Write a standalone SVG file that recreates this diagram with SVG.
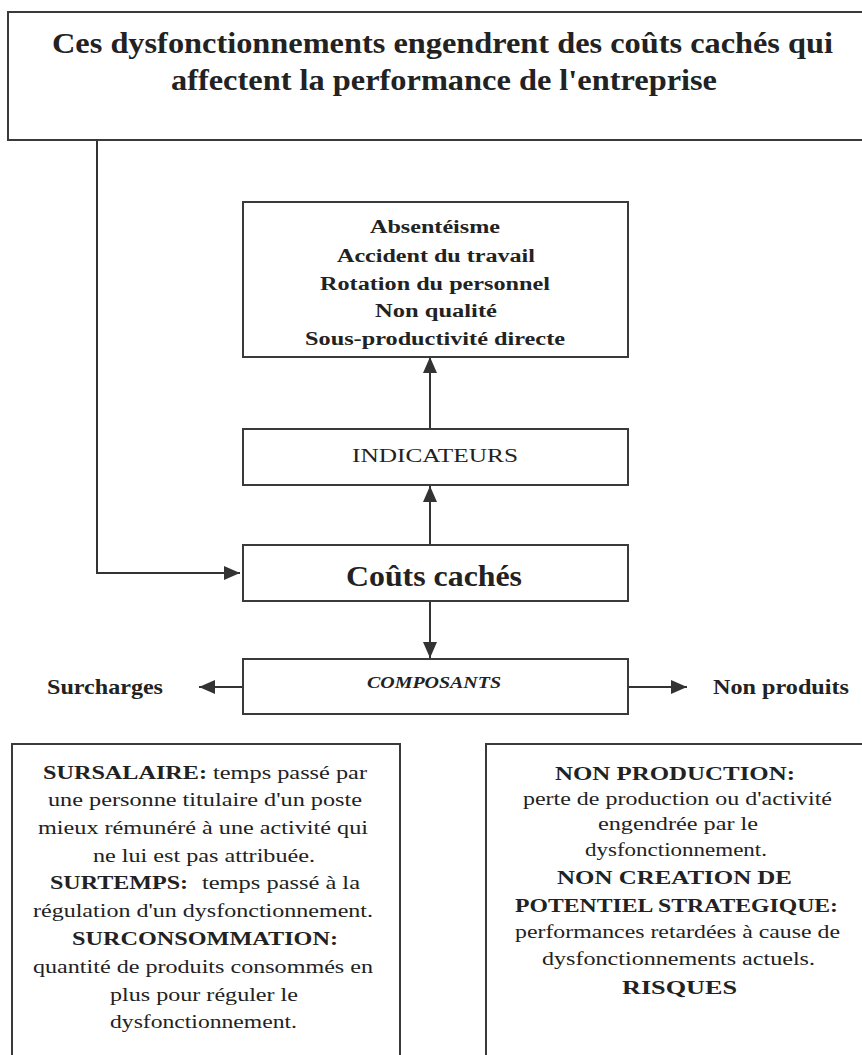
<svg xmlns="http://www.w3.org/2000/svg" width="862" height="1055" viewBox="0 0 862 1055">
<style>
.box{fill:#fff;stroke:#3a3a3a;stroke-width:2}
.ln{fill:none;stroke:#333;stroke-width:2}
text{font-family:"Liberation Serif","Times New Roman",serif;fill:#222}
.b{font-weight:bold}
.t{font-size:30px;font-weight:bold}
.l{font-size:18px;font-weight:bold}
.s{font-size:19px}
</style>
<defs>
<marker id="ah" markerUnits="userSpaceOnUse" markerWidth="16" markerHeight="14" refX="16" refY="7" orient="auto">
<path d="M0,0 L16,7 L0,14 Z" fill="#333"/>
</marker>
</defs>
<rect width="862" height="1055" fill="#fff"/>

<g id="connectors">
<polyline class="ln" points="97,141 97,573 240,573" marker-end="url(#ah)"/>
<line class="ln" x1="430" y1="428" x2="430" y2="357" marker-end="url(#ah)"/>
<line class="ln" x1="430" y1="545" x2="430" y2="486" marker-end="url(#ah)"/>
<line class="ln" x1="430" y1="601" x2="430" y2="658" marker-end="url(#ah)"/>
<line class="ln" x1="242" y1="687" x2="199" y2="687" marker-end="url(#ah)"/>
<line class="ln" x1="628" y1="687" x2="687" y2="687" marker-end="url(#ah)"/>
</g>

<g id="title">
<rect class="box" x="8" y="12" width="870" height="128"/>
<text class="t" x="52" y="53" textLength="781" lengthAdjust="spacingAndGlyphs">Ces dysfonctionnements engendrent des coûts cachés qui</text>
<text class="t" x="171" y="90" textLength="546" lengthAdjust="spacingAndGlyphs">affectent la performance de l'entreprise</text>
</g>

<g id="list">
<rect class="box" x="243" y="202" width="385" height="155"/>
<text class="l" x="370" y="233" textLength="130" lengthAdjust="spacingAndGlyphs">Absentéisme</text>
<text class="l" x="337" y="262" textLength="198" lengthAdjust="spacingAndGlyphs">Accident du travail</text>
<text class="l" x="320" y="290" textLength="230" lengthAdjust="spacingAndGlyphs">Rotation du personnel</text>
<text class="l" x="375" y="317" textLength="122" lengthAdjust="spacingAndGlyphs">Non qualité</text>
<text class="l" x="305" y="345" textLength="260" lengthAdjust="spacingAndGlyphs">Sous-productivité directe</text>
</g>

<g id="indicateurs">
<rect class="box" x="243" y="429" width="385" height="56"/>
<text x="352" y="462" font-size="18" textLength="166" lengthAdjust="spacingAndGlyphs">INDICATEURS</text>
</g>

<g id="couts">
<rect class="box" x="243" y="545" width="385" height="56"/>
<text class="t" x="346" y="586" textLength="176" lengthAdjust="spacingAndGlyphs">Coûts cachés</text>
</g>

<g id="composants">
<rect class="box" x="243" y="659" width="385" height="55"/>
<text x="367" y="688" font-size="16" font-weight="bold" font-style="italic" textLength="134" lengthAdjust="spacingAndGlyphs">COMPOSANTS</text>
</g>

<g id="surcharges">
<text class="b" x="47" y="694" font-size="21" textLength="116" lengthAdjust="spacingAndGlyphs">Surcharges</text>
</g>

<g id="nonproduits">
<text class="b" x="713" y="694" font-size="21" textLength="136" lengthAdjust="spacingAndGlyphs">Non produits</text>
</g>

<g id="surcharges-detail">
<rect class="box" x="12" y="744" width="388" height="330"/>
<text class="s b" x="43" y="779" textLength="164" lengthAdjust="spacingAndGlyphs">SURSALAIRE:</text>
<text class="s" x="213" y="779" textLength="154" lengthAdjust="spacingAndGlyphs">temps passé par</text>
<text class="s" x="48" y="806" textLength="314" lengthAdjust="spacingAndGlyphs">une personne titulaire d'un poste</text>
<text class="s" x="38" y="834" textLength="330" lengthAdjust="spacingAndGlyphs">mieux rémunéré à une activité qui</text>
<text class="s" x="93" y="862" textLength="222" lengthAdjust="spacingAndGlyphs">ne lui est pas attribuée.</text>
<text class="s b" x="50" y="889" textLength="138" lengthAdjust="spacingAndGlyphs">SURTEMPS:</text>
<text class="s" x="202" y="889" textLength="158" lengthAdjust="spacingAndGlyphs">temps passé à la</text>
<text class="s" x="33" y="917" textLength="340" lengthAdjust="spacingAndGlyphs">régulation d'un dysfonctionnement.</text>
<text class="s b" x="72" y="945" textLength="266" lengthAdjust="spacingAndGlyphs">SURCONSOMMATION:</text>
<text class="s" x="33" y="973" textLength="340" lengthAdjust="spacingAndGlyphs">quantité de produits consommés en</text>
<text class="s" x="110" y="1001" textLength="188" lengthAdjust="spacingAndGlyphs">plus pour réguler le</text>
<text class="s" x="110" y="1028" textLength="187" lengthAdjust="spacingAndGlyphs">dysfonctionnement.</text>
</g>

<g id="nonproduits-detail">
<rect class="box" x="486" y="744" width="390" height="330"/>
<text class="s b" x="555" y="780" textLength="240" lengthAdjust="spacingAndGlyphs">NON PRODUCTION:</text>
<text class="s" x="523" y="805" textLength="309" lengthAdjust="spacingAndGlyphs">perte de production ou d'activité</text>
<text class="s" x="598" y="830" textLength="160" lengthAdjust="spacingAndGlyphs">engendrée par le</text>
<text class="s" x="585" y="856" textLength="182" lengthAdjust="spacingAndGlyphs">dysfonctionnement.</text>
<text class="s b" x="557" y="884" textLength="235" lengthAdjust="spacingAndGlyphs">NON CREATION DE</text>
<text class="s b" x="515" y="912" textLength="323" lengthAdjust="spacingAndGlyphs">POTENTIEL STRATEGIQUE:</text>
<text class="s" x="515" y="938" textLength="325" lengthAdjust="spacingAndGlyphs">performances retardées à cause de</text>
<text class="s" x="542" y="965" textLength="273" lengthAdjust="spacingAndGlyphs">dysfonctionnements actuels.</text>
<text class="s b" x="622" y="994" textLength="115" lengthAdjust="spacingAndGlyphs">RISQUES</text>
</g>
</svg>
